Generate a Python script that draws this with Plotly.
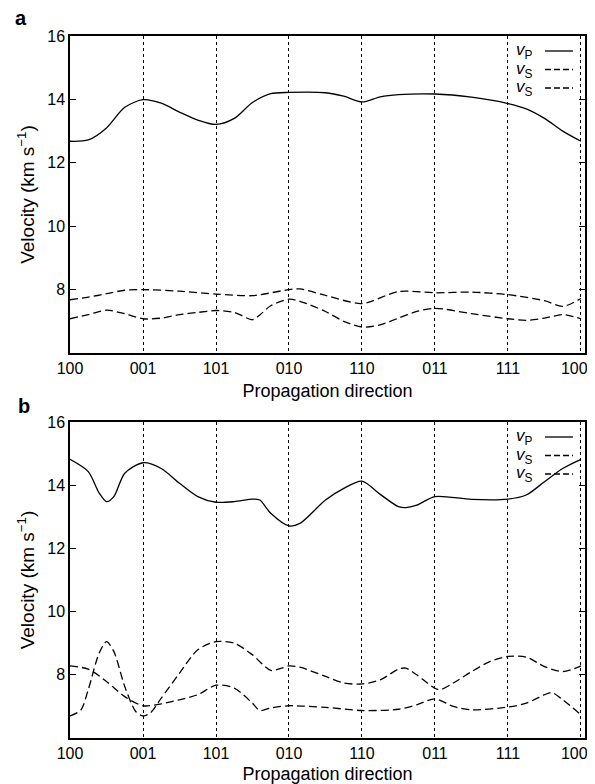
import plotly.graph_objects as go
from plotly.subplots import make_subplots

# ---------------- data ----------------
tick_vals = [0, 1, 2, 3, 4, 5, 6, 7]
tick_text = ["100", "001", "101", "010", "110", "011", "111", "100\u00a0\u00a0\u00a0"]
y_ticks = [8, 10, 12, 14, 16]

# Panel a
a_vp_x = [0, 0.25, 0.5, 0.75, 1, 1.25, 1.5, 1.75, 2, 2.25, 2.5, 2.75, 3, 3.5, 3.75, 4, 4.25, 4.5, 5, 5.5, 6, 6.25, 6.5, 6.75, 7]
a_vp_y = [12.68, 12.72, 13.1, 13.75, 13.99, 13.88, 13.6, 13.35, 13.21, 13.4, 13.9, 14.18, 14.22, 14.21, 14.1, 13.92, 14.08, 14.15, 14.17, 14.07, 13.87, 13.7, 13.4, 13.0, 12.68]

a_vs1_x = [0, 0.25, 0.5, 0.75, 1, 1.5, 2, 2.5, 3, 3.15, 3.5, 4, 4.5, 5, 5.5, 6, 6.5, 6.75, 7]
a_vs1_y = [7.68, 7.76, 7.87, 7.98, 8.0, 7.95, 7.86, 7.81, 8.0, 8.02, 7.82, 7.56, 7.94, 7.9, 7.92, 7.84, 7.65, 7.47, 7.72]

a_vs2_x = [0, 0.25, 0.5, 0.75, 1, 1.25, 1.5, 1.75, 2, 2.25, 2.5, 2.6, 2.75, 3, 3.15, 3.5, 3.75, 4, 4.25, 4.5, 4.75, 5, 5.5, 6, 6.25, 6.5, 6.75, 7]
a_vs2_y = [7.08, 7.21, 7.35, 7.24, 7.08, 7.1, 7.21, 7.28, 7.34, 7.28, 7.05, 7.2, 7.49, 7.7, 7.63, 7.31, 7.0, 6.82, 6.89, 7.1, 7.31, 7.41, 7.24, 7.08, 7.03, 7.1, 7.21, 7.08]

# Panel b
b_vp_x = [0, 0.25, 0.4, 0.5, 0.6, 0.75, 1, 1.25, 1.5, 1.75, 2, 2.25, 2.5, 2.6, 2.75, 3, 3.15, 3.5, 3.75, 4, 4.25, 4.5, 4.6, 4.75, 5, 5.5, 6, 6.25, 6.5, 6.75, 7]
b_vp_y = [14.82, 14.43, 13.75, 13.48, 13.64, 14.38, 14.71, 14.53, 14.06, 13.64, 13.46, 13.48, 13.56, 13.53, 13.11, 12.71, 12.79, 13.53, 13.9, 14.13, 13.71, 13.32, 13.29, 13.37, 13.64, 13.55, 13.56, 13.69, 14.11, 14.53, 14.82]

b_vs1_x = [0, 0.25, 0.5, 0.75, 1, 1.25, 1.5, 1.75, 2, 2.25, 2.5, 2.6, 2.75, 3, 3.5, 4, 4.5, 4.75, 5, 5.25, 5.5, 6, 6.25, 6.5, 6.6, 6.75, 7]
b_vs1_y = [8.28, 8.18, 7.79, 7.31, 7.02, 7.08, 7.21, 7.37, 7.67, 7.58, 7.1, 6.87, 6.95, 7.02, 6.97, 6.87, 6.91, 7.05, 7.24, 7.0, 6.89, 6.98, 7.1, 7.37, 7.44, 7.21, 6.73]

b_vs2_x = [0, 0.15, 0.25, 0.4, 0.5, 0.6, 0.75, 0.9, 1, 1.1, 1.25, 1.5, 1.75, 2, 2.25, 2.5, 2.75, 2.9, 3, 3.15, 3.5, 3.75, 4, 4.25, 4.5, 4.6, 4.75, 5.05, 5.25, 5.5, 5.75, 6, 6.25, 6.5, 6.75, 7]
b_vs2_y = [6.70, 6.89, 7.53, 8.69, 9.05, 8.74, 7.63, 6.84, 6.70, 6.79, 7.26, 8.05, 8.79, 9.05, 9.0, 8.63, 8.14, 8.21, 8.28, 8.24, 7.95, 7.74, 7.71, 7.84, 8.18, 8.21, 8.0, 7.53, 7.74, 8.1, 8.42, 8.58, 8.56, 8.26, 8.1, 8.28]

legend_labels = ["<i>v</i><sub>P</sub>", "<i>v</i><sub>S</sub>", "<i>v</i><sub>S</sub>"]
# ---------------------------------------

FONT = "Liberation Sans, Arial, Helvetica, sans-serif"
OFF = 8  # page body margin of the html page
W, H = 595 - OFF, 784 - OFF
PLOT_L, PLOT_R, A_TOP, A_BOT, B_TOP, B_BOT = 70, 585, 36, 353, 422, 738   # page pixels
ML, MT = PLOT_L - OFF, A_TOP - OFF
MR = W - (PLOT_R - OFF)
MB = H - (B_BOT - OFF)
pw = W - ML - MR
plot_h = H - MT - MB


def px_x(x_ref):
    return (x_ref - OFF - ML) / pw


def px_y(y_ref):
    return (H - MB - (y_ref - OFF)) / plot_h


fig = make_subplots(rows=2, cols=1)

solid = dict(color="black", width=1.3, shape="spline", smoothing=0.8)
dashed = dict(color="black", width=1.3, dash="8px,4px", shape="spline", smoothing=0.8)

panels = [
    (1, [(a_vp_x, a_vp_y, solid), (a_vs1_x, a_vs1_y, dashed), (a_vs2_x, a_vs2_y, dashed)]),
    (2, [(b_vp_x, b_vp_y, solid), (b_vs1_x, b_vs1_y, dashed), (b_vs2_x, b_vs2_y, dashed)]),
]
for row, series in panels:
    for xs, ys, ln in series:
        fig.add_trace(go.Scatter(x=xs, y=ys, mode="lines", line=ln, showlegend=False,
                                 hoverinfo="skip"), row=row, col=1)

dom_a = [px_y(A_BOT), px_y(A_TOP)]
dom_b = [px_y(B_BOT), px_y(B_TOP)]

xcommon = dict(range=[0, 7.055], tickmode="array", tickvals=tick_vals, ticktext=tick_text,
               showgrid=True, gridcolor="black", griddash="dot", gridwidth=1,
               showline=True, linecolor="black", linewidth=1.5, mirror=True,
               ticks="", zeroline=False, automargin=False, ticklabeloverflow="allow",
               tickfont=dict(family=FONT, size=16, color="black"),
               title=dict(text="Propagation direction", font=dict(family=FONT, size=18, color="black"),
                          standoff=8))
ycommon = dict(range=[6, 16], tickmode="array", tickvals=y_ticks,
               showgrid=False, zeroline=False, automargin=False,
               showline=True, linecolor="black", linewidth=1.5, mirror="ticks",
               ticks="inside", ticklen=6, tickwidth=1.2, tickcolor="black",
               tickfont=dict(family=FONT, size=16, color="black"),
               title=dict(text="Velocity (km s<sup>−1</sup>)", font=dict(family=FONT, size=19, color="black"),
                          standoff=8))

fig.update_xaxes(**xcommon)
fig.update_yaxes(**ycommon)
fig.update_layout(yaxis=dict(domain=dom_a), yaxis2=dict(domain=dom_b))

# manual legends (text left of line sample)
ann = []
shapes = []
row_offsets = [15, 33.5, 52]
for xref, yref, top_px, bottom_px in [("x domain", "y domain", A_TOP, A_BOT), ("x2 domain", "y2 domain", B_TOP, B_BOT)]:
    ph = bottom_px - top_px
    for i, lab in enumerate(legend_labels):
        yd = 1 - row_offsets[i] / ph
        ann.append(dict(text=lab, xref=xref, yref=yref, x=px_x(535), y=yd,
                        xanchor="right", yanchor="middle", showarrow=False,
                        font=dict(family=FONT, size=17, color="black")))
        shapes.append(dict(type="line", xref=xref, yref=yref,
                           x0=px_x(545), x1=px_x(573), y0=yd, y1=yd,
                           line=dict(color="black", width=1.3, dash="solid" if i == 0 else "6px,3px")))

# panel labels
ann.append(dict(text="<b>a</b>", xref="paper", yref="paper", x=px_x(13), y=px_y(18),
                xanchor="left", yanchor="middle", showarrow=False,
                font=dict(family=FONT, size=20, color="black")))
ann.append(dict(text="<b>b</b>", xref="paper", yref="paper", x=px_x(16), y=px_y(406),
                xanchor="left", yanchor="middle", showarrow=False,
                font=dict(family=FONT, size=20, color="black")))

fig.update_layout(width=W, height=H, margin=dict(l=ML, r=MR, t=MT, b=MB, autoexpand=False),
                  paper_bgcolor="white", plot_bgcolor="white",
                  font=dict(family=FONT, color="black"),
                  annotations=ann, shapes=shapes, showlegend=False)

fig.write_html("out.html")
